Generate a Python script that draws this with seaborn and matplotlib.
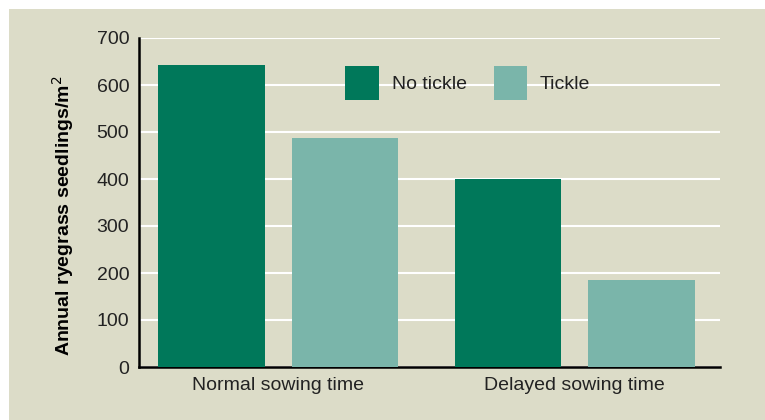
import pandas as pd
import matplotlib.pyplot as plt
import seaborn as sns
from matplotlib.patches import Rectangle

sowing = ['Normal sowing time', 'Delayed sowing time']
no_tickle = [642, 400]
tickle = [488, 186]

df = pd.DataFrame({
    'sowing': sowing * 2,
    'treatment': ['No tickle'] * 2 + ['Tickle'] * 2,
    'seedlings': no_tickle + tickle,
})

beige = '#dcdcc8'
sns.set_theme(style='white')
plt.rcParams['font.family'] = ['Liberation Sans', 'DejaVu Sans']

fig = plt.figure(figsize=(7.65, 4.2), dpi=100, facecolor='white')
fig.patches.append(Rectangle((9 / 765, 0), 1, 1 - 9 / 420, transform=fig.transFigure,
                             facecolor=beige, edgecolor='none', zorder=-1))
ax = fig.add_axes([139 / 765, 53 / 420, 581 / 765, 329 / 420])
ax.set_facecolor(beige)

sns.barplot(data=df, x='sowing', y='seedlings', hue='treatment',
            palette=['#00785a', '#7ab5aa'], width=0.9, gap=0.2,
            saturation=1, linewidth=0, edgecolor='none', ax=ax, zorder=3)

ax.set_ylim(0, 700)
ax.set_xlim(-0.47, 1.49)
ax.set_yticks(range(0, 701, 100))
ax.yaxis.grid(True, color='white', linewidth=1.5, zorder=0)
ax.set_axisbelow(True)
for s in ['top', 'right']:
    ax.spines[s].set_visible(False)
for s in ['left', 'bottom']:
    ax.spines[s].set_color('black')
    ax.spines[s].set_linewidth(1.8)
ax.tick_params(axis='both', length=0, labelsize=14, colors='#222222', pad=7)
ax.set_xlabel('')
ax.set_ylabel('Annual ryegrass seedlings/m$^2$', fontsize=14, fontweight='bold',
              color='black')
ax.yaxis.set_label_coords(-0.108, 0.46)

leg = ax.legend(loc='center', bbox_to_anchor=(0.566, 0.863), ncol=2, frameon=False,
                handlelength=1.7, handleheight=2.35, columnspacing=1.4,
                handletextpad=0.67, fontsize=14)
for t in leg.get_texts():
    t.set_color('#222222')

fig.savefig('out.png', dpi=100, facecolor='white')
